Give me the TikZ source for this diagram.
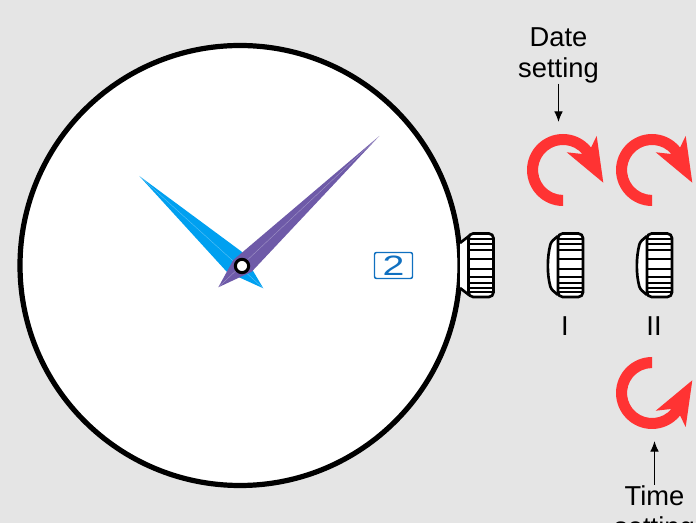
\documentclass[tikz,border=0pt]{standalone}
\usepackage{fontspec}
\setmainfont{Liberation Sans}
\usetikzlibrary{arrows.meta,positioning}
\definecolor{Paper}{HTML}{E5E5E5}
\definecolor{Sweep}{HTML}{00A0F0}
\definecolor{Violet}{HTML}{6E5AA8}
\definecolor{DateBlue}{HTML}{1070C0}
\definecolor{Turn}{HTML}{FF3333}
\tikzset{
  dial/.style={draw=black, line width=3.9pt, fill=white},
  hairline/.style={draw=white, draw opacity=.35, line width=.3pt},
  label/.style={font=\fontsize{20.5}{23.3}\selectfont, align=center, inner sep=0pt},
  arr/.style={-{Latex[length=8pt,width=6.5pt]}, line width=.8pt, draw=black},
  crown/.pic={
    \draw[line width=2pt, fill=white, rounded corners=3.5pt] (0,-32) rectangle (25,31.5);
    \foreach \ky in {-26,-21,-15,-6.5,3.5,11.5,17.5,22.5,27}
      \draw[line width=1.5pt] (0,\ky) -- (25,\ky);
  },
  turn/.pic={
    \fill[Turn] (0,36) arc[start angle=90, end angle=321.2, radius=36]
      -- (33.7,-34) -- (40.3,12.7) -- (3.7,-17.7) -- (19.3,-16)
      arc[start angle=320.3, end angle=90, radius=25] -- cycle;
  }
}
\begin{document}
\begin{tikzpicture}[x=.75pt, y=-.75pt]
  \useasboundingbox (0,0) rectangle (696,523);
  \clip (0,0) rectangle (696,523);
  \fill[Paper] (0,0) rectangle (696,523);

  % watch case
  \draw[dial] (240,265.5) circle[radius=220];

  % hands
  \fill[Sweep] (139.3,176) -- (241.7,251.7) -- (263.3,288.3) -- (226.7,271.7) -- cycle;
  \draw[hairline] (139.3,176) -- (263.3,288.3);
  \fill[Violet] (379.3,136) -- (251.7,271.7) -- (218.3,287.3) -- (233.3,260) -- cycle;
  \draw[hairline] (379.3,136) -- (218.3,287.3);
  \node[circle, draw=black, fill=white, line width=2.3pt, minimum size=10pt, inner sep=0pt] (pin) at (242,266) {};

  % date window
  \node[draw=DateBlue, line width=1.1pt, rounded corners=1.5pt, minimum width=28.5pt, minimum height=19.5pt,
    inner sep=0pt, text=DateBlue, font=\fontsize{21}{21}\selectfont] (date) at (393.5,265.5) {\scalebox{1.4}[1]{2}};

  % crown positions
  \draw[line width=2pt, fill=white, line join=round] (460,243) -- (469,236) -- (469,295) -- (460,288);
  \pic at (468.5,265.5) {crown};
  \draw[line width=2pt, fill=white, rounded corners=2pt] (558,236) -- (551,242) .. controls (547,258) and (547,274) .. (551,289) -- (558,295);
  \pic at (558,265.5) {crown};
  \draw[line width=2pt, fill=white, rounded corners=2pt] (647,236) -- (640,242) .. controls (636,258) and (636,274) .. (640,289) -- (647,295);
  \pic at (647,265.5) {crown};
  \node[label] (posI) at (565,326) {I};
  \node[label] (posII) at (654,326) {II};

  % turning arrows
  \pic at (563,170) {turn};
  \pic at (652,170) {turn};
  \pic[yscale=-1] at (652,393) {turn};

  % captions
  \node[label] (dateset) at (558.5,55.5) {Date\\setting};
  \coordinate (dateend) at (558.5,122);
  \draw[arr] (dateset) -- (dateend);
  \node[label, anchor=north] (timeset) at (654.5,485) {Time\\setting};
  \coordinate (timeend) at (654.5,441);
  \draw[arr] (timeset) -- (timeend);
\end{tikzpicture}
\end{document}
